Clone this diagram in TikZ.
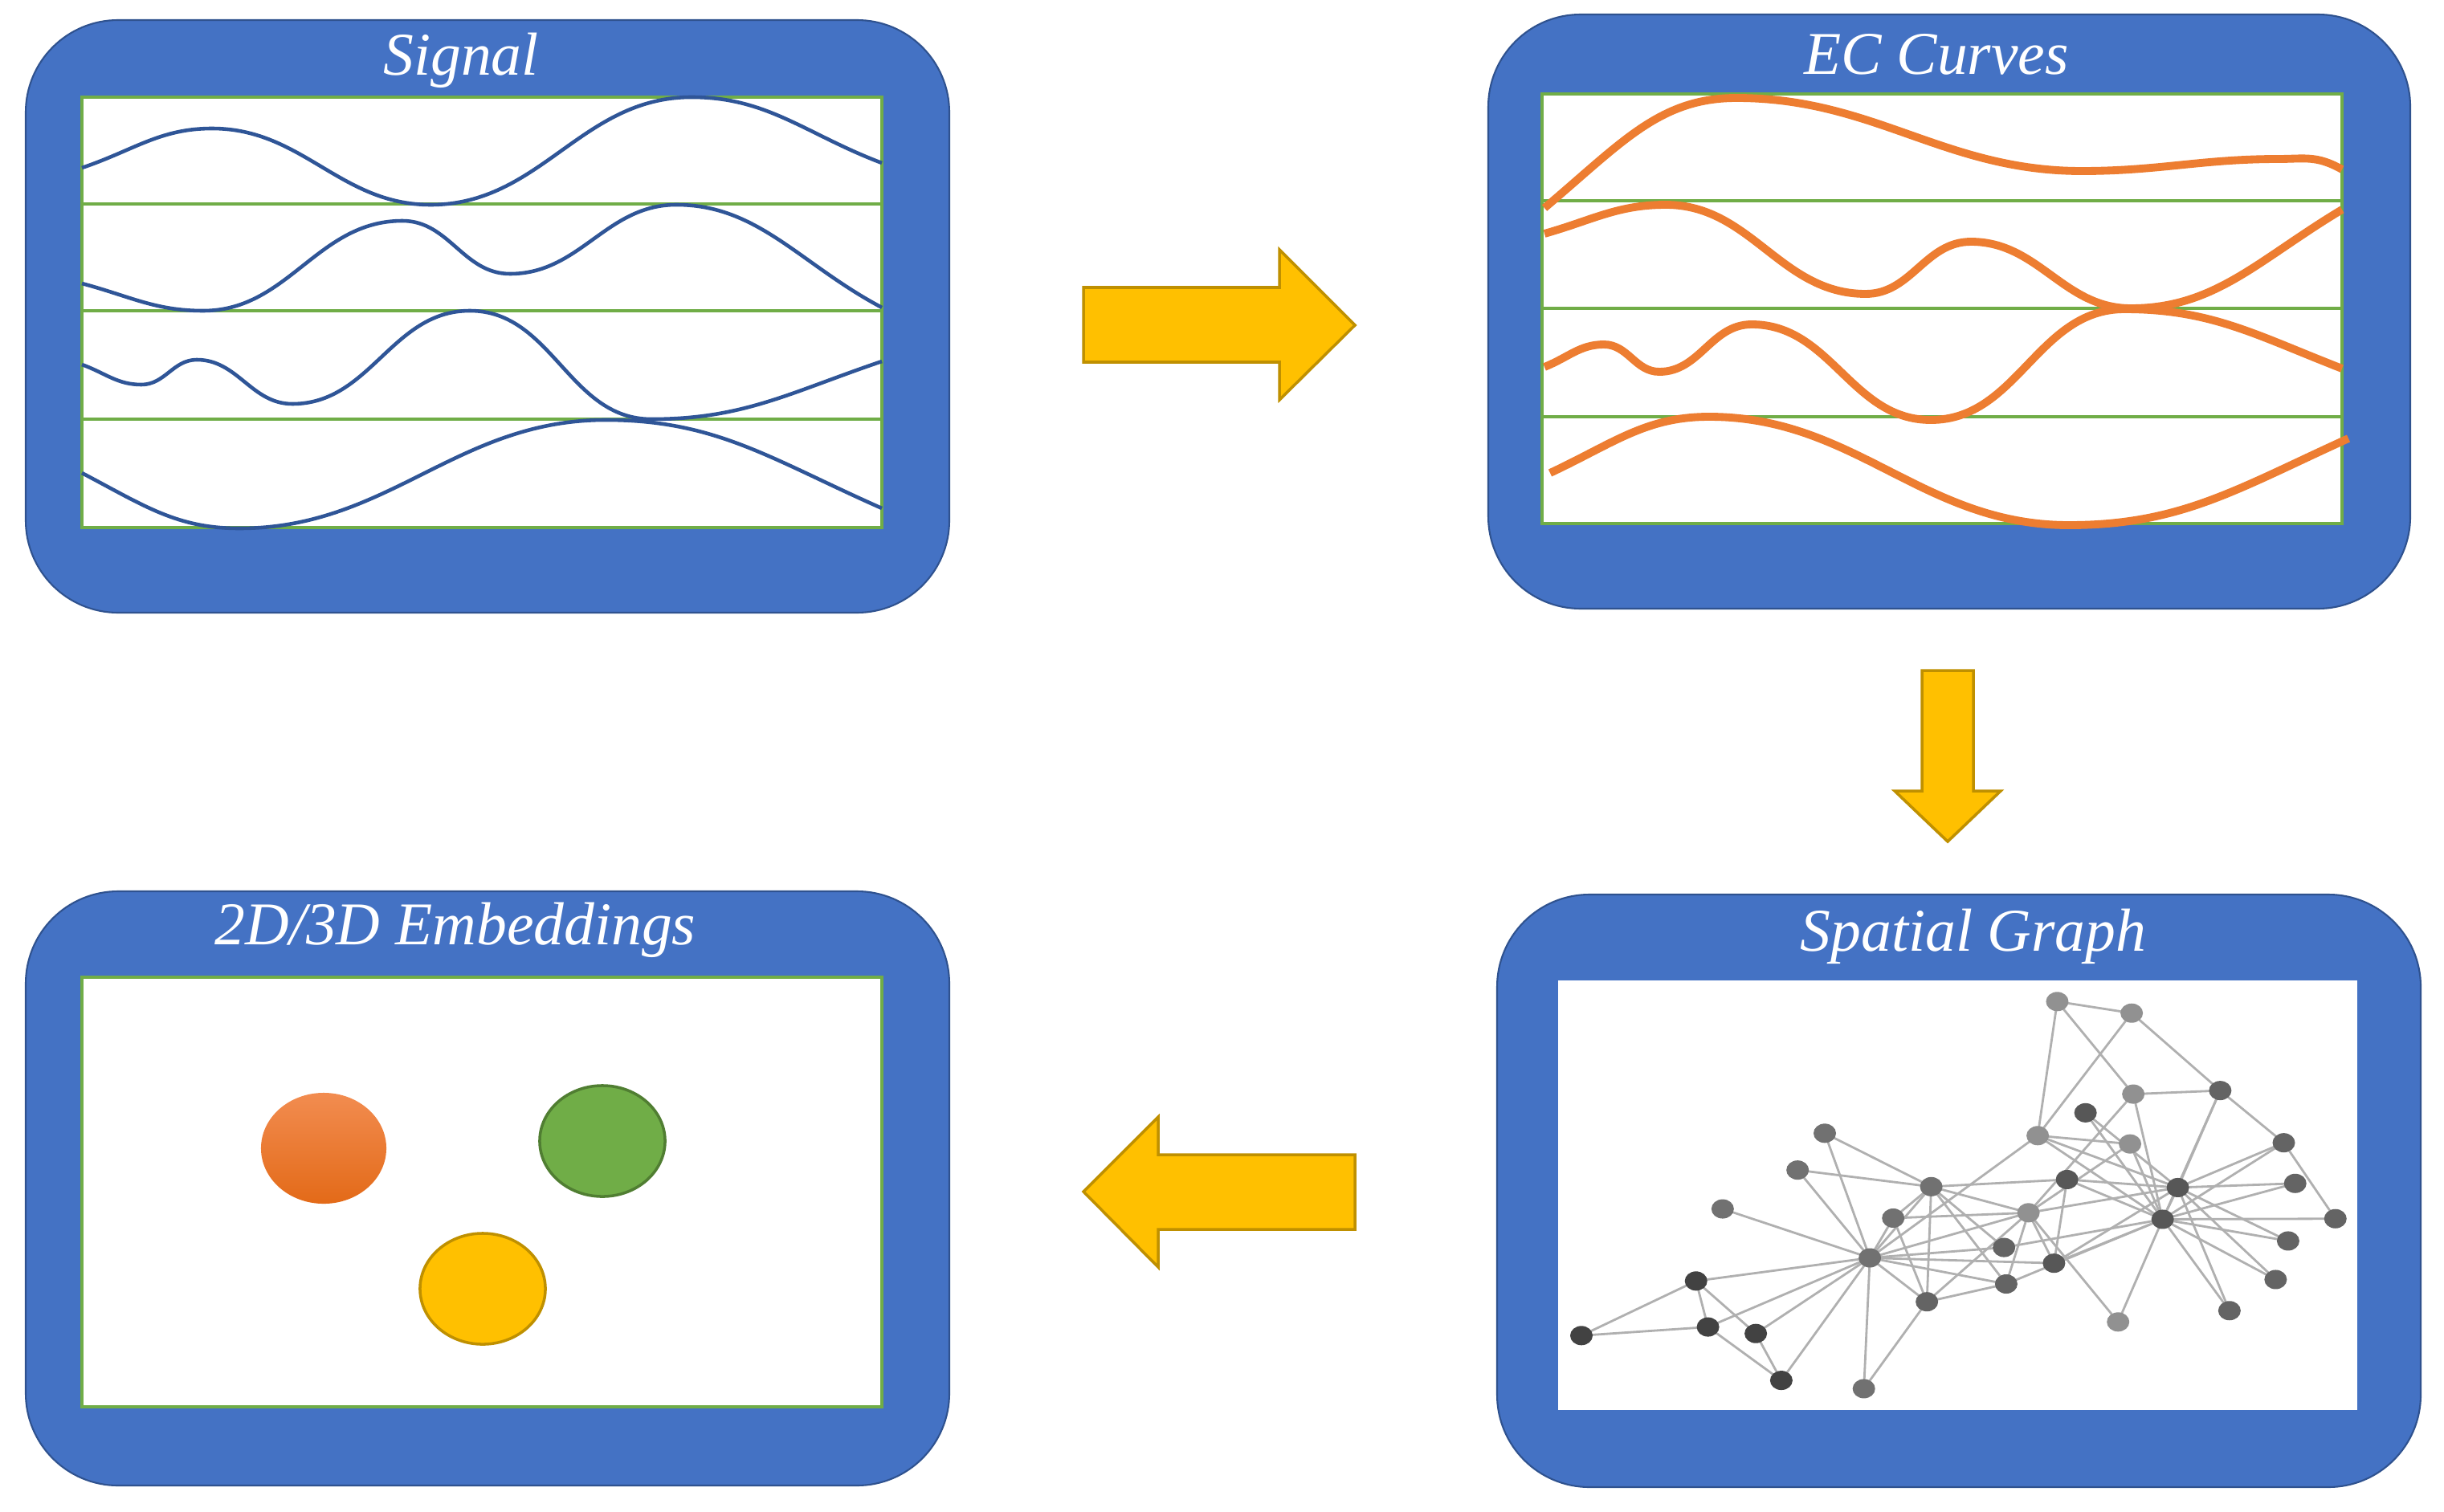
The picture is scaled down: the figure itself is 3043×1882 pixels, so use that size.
\documentclass[tikz,border=0pt]{standalone}
\usepackage{fontspec}
\setmainfont{Liberation Serif}
\usetikzlibrary{shapes.geometric}
\pgfdeclarelayer{back}
\pgfdeclarelayer{edgelayer}
\pgfsetlayers{back,edgelayer,main}
\definecolor{boxblue}{HTML}{4472C4}
\definecolor{boxedge}{HTML}{2F528F}
\definecolor{gline}{HTML}{70AD47}
\definecolor{sigblue}{HTML}{2F5597}
\definecolor{ecorange}{HTML}{ED7D31}
\definecolor{arrowfill}{HTML}{FFC000}
\definecolor{arrowedge}{HTML}{BF9000}
\definecolor{greenfill}{HTML}{70AD47}
\definecolor{greenedge}{HTML}{507E32}
\definecolor{edgegray}{HTML}{B0B0B0}
\definecolor{nlight}{HTML}{919191}
\definecolor{nmid}{HTML}{717171}
\definecolor{nmdark}{HTML}{646464}
\definecolor{ndark}{HTML}{575757}
\definecolor{nvdark}{HTML}{424242}
\definecolor{orangetop}{HTML}{F28C50}
\definecolor{orangebot}{HTML}{E36A18}
\begin{document}
\begin{tikzpicture}[x=0.01cm,y=-0.01cm,
  panelbox/.style={draw=boxedge, line width=0.6pt, fill=boxblue, rounded corners=1.15cm},
  innerbox/.style={draw=gline, line width=1pt, fill=white},
  sepline/.style={gline, line width=1pt},
  sigcurve/.style={sigblue, line width=1.3pt},
  eccurve/.style={ecorange, line width=2.8pt},
  title/.style={anchor=base, text=white, inner sep=0pt, font=\itshape\fontsize{21.5}{26}\selectfont},
  blockarrow/.style={fill=arrowfill, draw=arrowedge, line width=1pt, line join=miter},
  gedge/.style={edgegray, line width=0.8pt},
  gnode/.style={ellipse, inner sep=0pt, minimum width=0.28cm, minimum height=0.24cm},
  blob/.style={ellipse, inner sep=0pt, minimum width=1.56cm, minimum height=1.38cm, line width=1pt}]
\useasboundingbox (0,0) rectangle (3043,1882);

\begin{pgfonlayer}{back}
\fill[white] (0,0) rectangle (3043,1882);
% Signal panel
\draw[panelbox] (32,25) rectangle (1182,763);
\draw[innerbox] (102,121) rectangle (1098,657);
\draw[sepline] (102,254) -- (1098,254);
\draw[sepline] (102,387) -- (1098,387);
\draw[sepline] (102,522) -- (1098,522);
\draw[sigcurve] (102,209) .. controls (167,187) and (199,160) .. (264,160)
  to[out=0,in=180] (536,255) to[out=0,in=180] (861,121)
  .. controls (956,121) and (1003,167) .. (1098,203);
\draw[sigcurve] (102,353) .. controls (162,369) and (193,387) .. (253,387)
  to[out=0,in=180] (501,275) to[out=0,in=180] (635,341) to[out=0,in=180] (842,255)
  .. controls (944,255) and (996,329) .. (1098,383);
\draw[sigcurve] (102,454) .. controls (132,465) and (146,479) .. (176,479)
  to[out=0,in=180] (245,448) to[out=0,in=180] (364,503) to[out=0,in=180] (585,387)
  to[out=0,in=180] (811,522)
  .. controls (926,522) and (983,489) .. (1098,450);
\draw[sigcurve] (102,589) .. controls (180,630) and (220,658) .. (298,658)
  to[out=0,in=180] (754,523)
  .. controls (892,523) and (960,572) .. (1098,633);
% EC panel
\draw[panelbox] (1853,18) rectangle (3001,758);
\draw[innerbox] (1920,117) rectangle (2916,652);
\draw[sepline] (1920,250) -- (2916,250);
\draw[sepline] (1920,384) -- (2916,384);
\draw[sepline] (1920,519) -- (2916,519);
\draw[eccurve] (1923,259) .. controls (2019,178) and (2066,122) .. (2162,122)
  to[out=0,in=180] (2592,213) to[out=0,in=180] (2837,198)
  .. controls (2869,198) and (2884,193) .. (2916,211);
\draw[eccurve] (1923,291) .. controls (1983,274) and (2014,255) .. (2074,255)
  to[out=0,in=180] (2323,366) to[out=0,in=180] (2454,301) to[out=0,in=180] (2653,384)
  .. controls (2758,384) and (2811,324) .. (2916,261);
\draw[eccurve] (1923,457) .. controls (1953,445) and (1967,429) .. (1997,429)
  to[out=0,in=180] (2066,463) to[out=0,in=180] (2181,404) to[out=0,in=180] (2404,523)
  to[out=0,in=180] (2645,385)
  .. controls (2753,385) and (2808,417) .. (2916,459);
\draw[eccurve] (1930,589) .. controls (2009,552) and (2049,519) .. (2128,519)
  to[out=0,in=180] (2576,654)
  .. controls (2715,654) and (2785,609) .. (2924,546);
% Embeddings panel
\draw[panelbox] (32,1110) rectangle (1182,1850);
\draw[innerbox] (102,1217) rectangle (1098,1752);
% Spatial graph panel
\draw[panelbox] (1864,1114) rectangle (3014,1852);
\fill[white] (1940,1221) rectangle (2935,1756);
\end{pgfonlayer}

% titles
\node[title] (tsig) at (574,94) {Signal};
\node[title] (tec) at (2411,93) {EC Curves};
\node[title] (temb) at (567,1176) {2D/3D Embeddings};
\node[title] (tsp) at (2457,1184) {Spatial Graph};

% arrows
\draw[blockarrow] (1349,358) -- (1593,358) -- (1593,311) -- (1687,405) -- (1593,498) -- (1593,451) -- (1349,451) -- cycle;
\draw[blockarrow] (2393,835) -- (2457,835) -- (2457,985) -- (2491,985) -- (2425,1048) -- (2359,985) -- (2393,985) -- cycle;
\draw[blockarrow] (1349,1484) -- (1442,1391) -- (1442,1438) -- (1687,1438) -- (1687,1531) -- (1442,1531) -- (1442,1578) -- cycle;

% embeddings
\node[blob, top color=orangetop, bottom color=orangebot] (eo) at (403,1430) {};
\node[blob, fill=greenfill, draw=greenedge] (eg) at (750,1421) {};
\node[blob, fill=arrowfill, draw=arrowedge] (ey) at (601,1605) {};

% graph nodes
\begin{scope}[shift={(1900,1200)}, x=0.00676cm, y=-0.0037cm]
\node[gnode, fill=nmid]   (k1)  at (633,992) {};
\node[gnode, fill=nmid]   (k2)  at (746,752) {};
\node[gnode, fill=nlight] (k3)  at (925,840) {};
\node[gnode, fill=nmdark] (k4)  at (738,1140) {};
\node[gnode, fill=nvdark] (k5)  at (470,1405) {};
\node[gnode, fill=nvdark] (k6)  at (313,1070) {};
\node[gnode, fill=nvdark] (k7)  at (335,1225) {};
\node[gnode, fill=nmid]   (k8)  at (676,858) {};
\node[gnode, fill=ndark]  (k9)  at (972,1010) {};
\node[gnode, fill=nlight] (k10) at (1090,1208) {};
\node[gnode, fill=nvdark] (k11) at (423,1247) {};
\node[gnode, fill=nmid]   (k12) at (362,827) {};
\node[gnode, fill=nmid]   (k13) at (622,1433) {};
\node[gnode, fill=nmdark] (k14) at (884,1080) {};
\node[gnode, fill=ndark]  (k15) at (1030,503) {};
\node[gnode, fill=nmdark] (k16) at (1416,741) {};
\node[gnode, fill=nvdark] (k17) at (102,1254) {};
\node[gnode, fill=nmid]   (k18) at (550,572) {};
\node[gnode, fill=nmdark] (k19) at (1403,935) {};
\node[gnode, fill=nmdark] (k20) at (880,957) {};
\node[gnode, fill=nmdark] (k21) at (1380,1065) {};
\node[gnode, fill=nmid]   (k22) at (500,696) {};
\node[gnode, fill=nmdark] (k23) at (1295,1170) {};
\node[gnode, fill=nmdark] (k24) at (1278,428) {};
\node[gnode, fill=nlight] (k25) at (978,128) {};
\node[gnode, fill=nlight] (k26) at (1115,167) {};
\node[gnode, fill=nmdark] (k27) at (1490,860) {};
\node[gnode, fill=nlight] (k28) at (1118,440) {};
\node[gnode, fill=nlight] (k29) at (1112,608) {};
\node[gnode, fill=nmdark] (k30) at (1395,604) {};
\node[gnode, fill=ndark]  (k31) at (996,728) {};
\node[gnode, fill=nlight] (k32) at (942,580) {};
\node[gnode, fill=ndark]  (k33) at (1200,755) {};
\node[gnode, fill=ndark]  (k34) at (1172,862) {};
\end{scope}

\begin{pgfonlayer}{edgelayer}
\foreach \a/\b in {1/2,1/3,1/4,1/5,1/6,1/7,1/8,1/9,1/11,1/12,1/13,1/14,1/18,1/20,1/22,1/32,
  2/3,2/4,2/8,2/14,2/18,2/20,2/22,2/31,
  3/4,3/8,3/9,3/10,3/14,3/28,3/29,3/33,
  4/8,4/13,4/14,5/7,5/11,6/7,6/11,6/17,7/17,
  9/31,9/33,9/34,10/34,14/34,15/33,15/34,16/33,16/34,19/33,19/34,
  20/34,21/33,21/34,23/33,23/34,
  24/26,24/28,24/30,24/33,24/34,25/26,25/28,25/32,26/32,
  27/30,27/34,28/34,29/32,29/34,30/33,30/34,31/33,31/34,32/33,32/34,33/34}
  \draw[gedge] (k\a.center) -- (k\b.center);
\end{pgfonlayer}
\end{tikzpicture}
\end{document}
